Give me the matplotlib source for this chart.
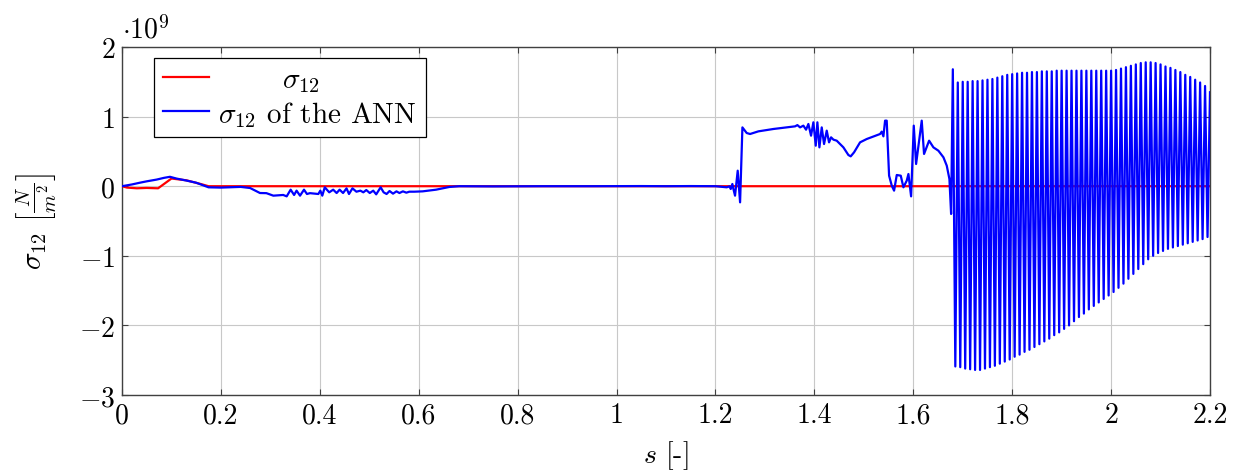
import numpy as np
import matplotlib
matplotlib.use("Agg")
import matplotlib.pyplot as plt

plt.rcParams.update({
    "font.family": "serif",
    "font.serif": ["cmr10", "DejaVu Serif"],
    "mathtext.fontset": "cm",
    "axes.formatter.use_mathtext": True,
    "axes.unicode_minus": True,
})

# ---- data (sigma_12 in units of 1e9 N/m^2) ----
s_ref = [0.0, 0.01, 0.03, 0.05, 0.073, 0.10, 0.13, 0.16, 0.175, 2.2]
sig_ref = [0.0, -0.02, -0.03, -0.025, -0.03, 0.11, 0.085, 0.03, 0.0, 0.0]

s_ann_smooth = [
    0.0, 0.02, 0.036, 0.05, 0.07, 0.085, 0.097, 0.11, 0.131, 0.15, 0.175, 0.2,
    0.218, 0.24, 0.259, 0.279, 0.292, 0.306, 0.326, 0.333, 0.341, 0.348, 0.353,
    0.360, 0.368, 0.374, 0.38, 0.397, 0.401, 0.405, 0.410, 0.419, 0.427, 0.434,
    0.440, 0.447, 0.454, 0.459, 0.466, 0.474, 0.482, 0.488, 0.494, 0.501, 0.508,
    0.514, 0.523, 0.529, 0.535, 0.541, 0.548, 0.555, 0.561, 0.568, 0.575, 0.581,
    0.591, 0.608, 0.635, 0.662, 0.682, 0.75, 0.85, 0.95, 1.05, 1.1, 1.15, 1.2,
    1.2228, 1.2282, 1.2309, 1.2342, 1.2363, 1.2396, 1.2450, 1.2498, 1.2545,
    1.2632, 1.2700, 1.2868, 1.3172, 1.3610, 1.3657, 1.3711, 1.3778, 1.3832,
    1.3879, 1.3933, 1.3980, 1.4028, 1.4061, 1.4102, 1.4149, 1.4196, 1.4250,
    1.4297, 1.4338, 1.4385, 1.4452, 1.4587, 1.4688, 1.4735, 1.4803, 1.4924,
    1.5059, 1.5329, 1.5362, 1.5396, 1.5430, 1.5463, 1.5511, 1.5565, 1.5612,
    1.5666, 1.5747, 1.5801, 1.5868, 1.5902, 1.5956, 1.6010, 1.6057, 1.6171,
    1.6218, 1.6320, 1.6407, 1.6508, 1.6610, 1.6677, 1.6731, 1.6765,
]
sig_ann_smooth = [
    0.0, 0.025, 0.05, 0.07, 0.095, 0.12, 0.135, 0.11, 0.08, 0.05, -0.016, -0.02,
    -0.016, -0.01, -0.026, -0.098, -0.10, -0.136, -0.126, -0.146, -0.05, -0.126, -0.064,
    -0.136, -0.050, -0.112, -0.10, -0.112, -0.064, -0.136, -0.016, -0.088, -0.050, -0.098,
    -0.050, -0.098, -0.031, -0.112, -0.031, -0.079, -0.064, -0.088, -0.055, -0.098, -0.064,
    -0.117, -0.016, -0.088, -0.112, -0.069, -0.107, -0.074, -0.098, -0.074, -0.093, -0.079,
    -0.079, -0.074, -0.050, -0.011, 0.0, -0.003, 0.0, 0.0, 0.002, 0.0, 0.002, 0.0,
    -0.016, -0.002, -0.040, 0.032, -0.040, -0.136, 0.223, -0.232, 0.845,
    0.764, 0.750, 0.788, 0.822, 0.860, 0.878, 0.845, 0.870, 0.812,
    0.894, 0.726, 0.918, 0.582, 0.918, 0.558, 0.845, 0.606, 0.798,
    0.630, 0.702, 0.669, 0.654, 0.558, 0.448, 0.429, 0.487, 0.630,
    0.678, 0.750, 0.784, 0.716, 0.942, 0.942, 0.151, 0.008, -0.064,
    0.161, 0.151, -0.016, 0.080, 0.175, -0.146, 0.870, 0.319, 0.942,
    0.463, 0.654, 0.558, 0.510, 0.415, 0.295, 0.103, -0.399,
]

# oscillating part: upper peaks at s = 1.68, 1.69, ..., 2.20; lower peaks in between
osc_top = [
    1.68, 1.49, 1.50, 1.50, 1.51, 1.51, 1.52, 1.53, 1.54, 1.56, 1.58, 1.60, 1.61,
    1.62, 1.63, 1.63, 1.64, 1.64, 1.65, 1.65, 1.65, 1.66, 1.66, 1.66, 1.66, 1.66,
    1.66, 1.66, 1.66, 1.66, 1.66, 1.66, 1.66, 1.67, 1.69, 1.71, 1.73, 1.75, 1.77,
    1.78, 1.78, 1.77, 1.75, 1.72, 1.70, 1.67, 1.64, 1.60, 1.57, 1.53, 1.49, 1.44,
    1.35,
]
osc_bottom = [
    -2.59, -2.60, -2.62, -2.63, -2.64, -2.64, -2.62, -2.60, -2.58, -2.55, -2.52,
    -2.49, -2.45, -2.42, -2.38, -2.35, -2.31, -2.27, -2.23, -2.19, -2.14, -2.10,
    -2.05, -2.00, -1.94, -1.88, -1.83, -1.77, -1.72, -1.67, -1.62, -1.57, -1.52,
    -1.46, -1.40, -1.33, -1.26, -1.19, -1.12, -1.05, -1.00, -0.96, -0.93, -0.90,
    -0.88, -0.86, -0.84, -0.82, -0.80, -0.78, -0.76, -0.73,
]
osc_s_start, osc_s_end = 1.68, 2.20

x_ticks = [0, 0.2, 0.4, 0.6, 0.8, 1.0, 1.2, 1.4, 1.6, 1.8, 2.0, 2.2]
x_ticklabels = ["0", "0.2", "0.4", "0.6", "0.8", "1", "1.2", "1.4", "1.6", "1.8", "2", "2.2"]
y_ticks = [-3, -2, -1, 0, 1, 2]

# ---- assemble oscillating part ----
s_top = np.linspace(osc_s_start, osc_s_end, len(osc_top))
step = (s_top[1] - s_top[0]) / 2.0
s_bot = s_top[:len(osc_bottom)] + step
s_osc, v_osc = [], []
for i in range(len(osc_top)):
    s_osc.append(s_top[i]); v_osc.append(osc_top[i])
    if i < len(osc_bottom):
        s_osc.append(s_bot[i]); v_osc.append(osc_bottom[i])

s_ann = np.concatenate([s_ann_smooth, s_osc])
sig_ann = np.concatenate([sig_ann_smooth, v_osc])

FS = 20

# ---- figure ----
fig = plt.figure(figsize=(12.37, 4.77), dpi=100)
ax = fig.add_axes([122 / 1237, 81 / 477, 1088 / 1237, 348 / 477])

ax.plot(s_ref, sig_ref, color="#ff0000", lw=1.6, label=r"$\quad\quad\,\,\,\sigma_{12}$", zorder=3)
ax.plot(s_ann, sig_ann, color="#0000ff", lw=1.6, label=r"$\sigma_{12}$ of the ANN", zorder=4)

ax.set_xlim(0, 2.2)
ax.set_ylim(-3, 2)
ax.set_xticks(x_ticks)
ax.set_xticklabels(x_ticklabels)
ax.set_yticks(y_ticks)
ax.grid(True, color="#c8c8c8", lw=0.8)
ax.set_axisbelow(True)
ax.tick_params(direction="in", length=4, width=0.8, top=True, right=True,
               labelsize=FS, pad=5, colors="#404040", labelcolor="black")
for sp in ax.spines.values():
    sp.set_color("#404040")
    sp.set_linewidth(1.0)

ax.set_xlabel(r"$s$ [-]", fontsize=FS, labelpad=7)
ax.set_ylabel(r"$\sigma_{12}\ \left[\frac{N}{m^2}\right]$", fontsize=FS + 1, labelpad=14)
ax.text(0.0, 1.01, r"$\cdot 10^9$", transform=ax.transAxes, fontsize=FS,
        ha="left", va="bottom")

leg = ax.legend(loc="upper left", bbox_to_anchor=(0.0294, 0.968), borderaxespad=0,
                fontsize=FS + 1, fancybox=False, framealpha=1, edgecolor="black",
                handlelength=1.6, handletextpad=0.3, borderpad=0.3, labelspacing=0.15)
leg.get_frame().set_linewidth(0.9)

fig.savefig("out.png", dpi=100)
